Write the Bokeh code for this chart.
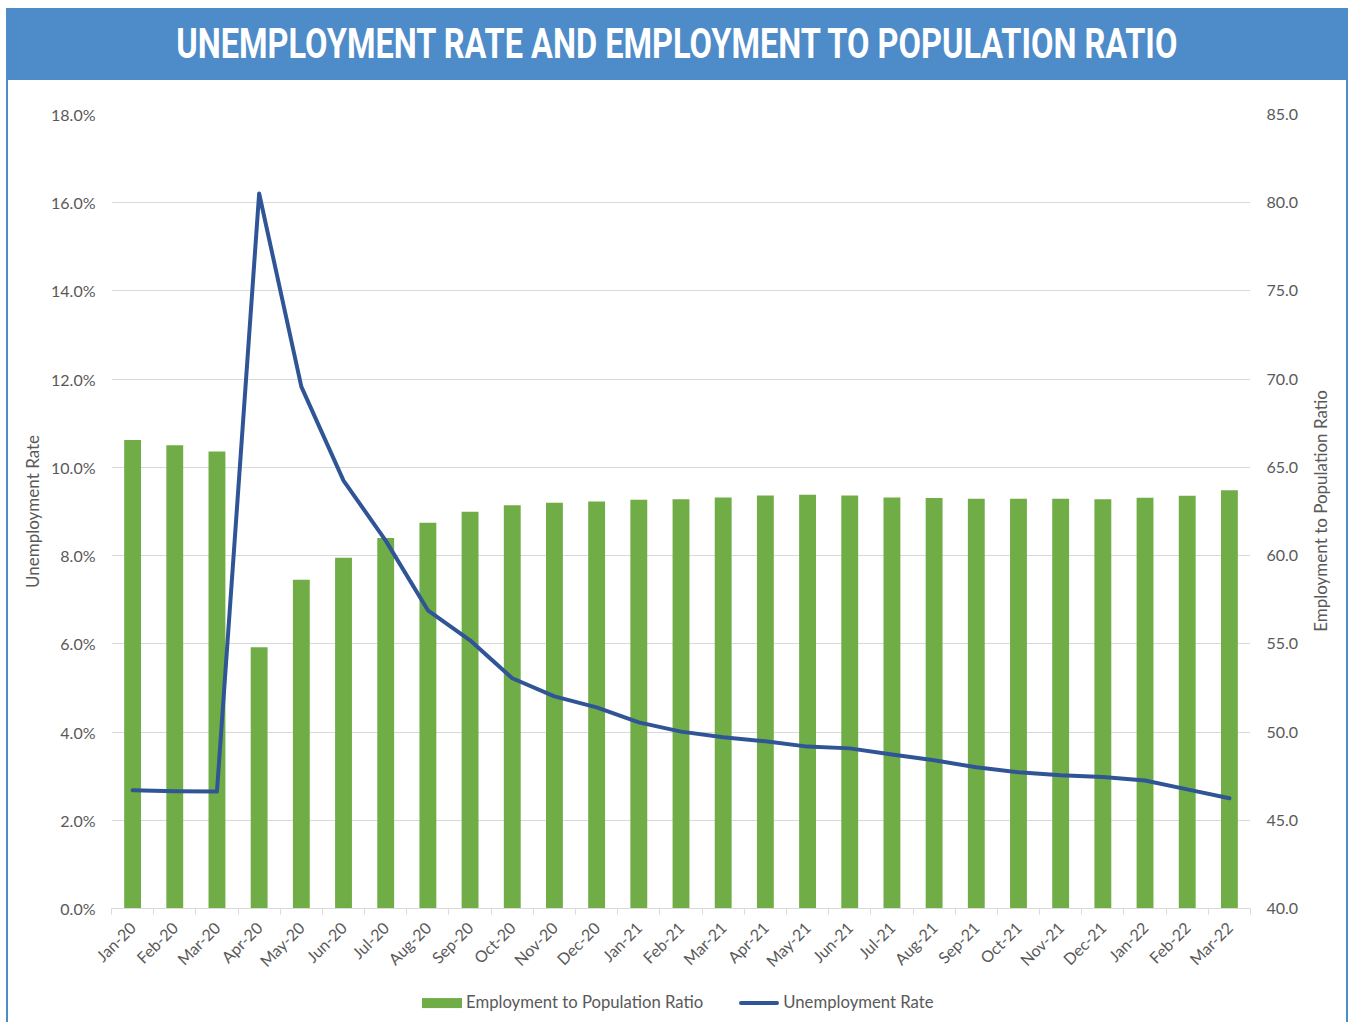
import math
from bokeh.plotting import figure
from bokeh.models import Range1d, LinearAxis, FixedTicker, PrintfTickFormatter, Div
from bokeh.layouts import column, row
from bokeh.embed import file_html
from bokeh.resources import INLINE

# ---------------- data ----------------
months = ["Jan-20", "Feb-20", "Mar-20", "Apr-20", "May-20", "Jun-20", "Jul-20", "Aug-20",
          "Sep-20", "Oct-20", "Nov-20", "Dec-20", "Jan-21", "Feb-21", "Mar-21", "Apr-21",
          "May-21", "Jun-21", "Jul-21", "Aug-21", "Sep-21", "Oct-21", "Nov-21", "Dec-21",
          "Jan-22", "Feb-22", "Mar-22"]
unemployment_rate = [2.68, 2.66, 2.65, 16.21, 11.83, 9.70, 8.34, 6.76, 6.08, 5.22, 4.81, 4.56,
                     4.22, 4.01, 3.88, 3.79, 3.67, 3.63, 3.49, 3.36, 3.20, 3.09, 3.02, 2.98,
                     2.90, 2.70, 2.50]
emp_pop_ratio = [66.55, 66.25, 65.9, 54.8, 58.63, 59.88, 61.0, 61.86, 62.49, 62.85, 63.0, 63.07,
                 63.17, 63.2, 63.3, 63.4, 63.45, 63.4, 63.3, 63.26, 63.22, 63.22, 63.22, 63.19,
                 63.28, 63.39, 63.7]
left_ticks = [0, 2, 4, 6, 8, 10, 12, 14, 16, 18]
right_ticks = [40, 45, 50, 55, 60, 65, 70, 75, 80, 85]
title_text = "UNEMPLOYMENT RATE AND EMPLOYMENT TO POPULATION RATIO"
left_title = "Unemployment Rate"
right_title = "Employment to Population Ratio"
bar_label = "Employment to Population Ratio"
line_label = "Unemployment Rate"

# ---------------- styles ----------------
BANNER = "#4E8BC9"
GREEN = "#70AD47"
LINE = "#2F5597"
GRID = "#D9D9D9"
TXT = "#595959"
FONT = "Lato"

INNER_W = 1338      # inside the blue side borders
BANNER_H = 72
PLOT_H = 905
RIGHT_W = 45
LEGEND_H = 37

# ---------------- title banner ----------------
title_html = (
    '<div style="width:%dpx;height:%dpx;line-height:%dpx;text-align:center;'
    'background:%s;color:white;font-family:Roboto,sans-serif;font-weight:bold;'
    'font-size:42px;white-space:nowrap;overflow:hidden;">'
    '<span style="display:inline-block;transform:scaleX(0.775);">%s</span></div>'
    % (INNER_W, BANNER_H, BANNER_H, BANNER, title_text)
)
banner = Div(text=title_html, width=INNER_W, height=BANNER_H, margin=(0, 0, 0, 0))

# ---------------- main chart ----------------
n = len(months)
idx = list(range(1, n + 1))
bounds = [i + 0.5 for i in range(0, n + 1)]

p = figure(width=INNER_W - RIGHT_W, height=PLOT_H, x_range=Range1d(0.5, n + 0.5),
           y_range=Range1d(left_ticks[0], left_ticks[-1]),
           output_backend="svg", toolbar_location=None, margin=(0, 0, 0, 0),
           min_border_left=103, min_border_right=48, min_border_top=34, min_border_bottom=77,
           background_fill_color="white", border_fill_color="white", outline_line_color=None)
p.extra_y_ranges = {"emp": Range1d(right_ticks[0], right_ticks[-1])}

bars = p.vbar(x=idx, top=emp_pop_ratio, bottom=right_ticks[0], width=0.4,
              y_range_name="emp", fill_color=GREEN, line_color=None)
ln = p.line(x=idx, y=unemployment_rate, line_color=LINE, line_width=4,
            line_join="round", line_cap="round")

# x axis
xa = p.xaxis[0]
xa.ticker = FixedTicker(ticks=idx, minor_ticks=bounds)
xa.major_label_overrides = {i: m for i, m in zip(idx, months)}
xa.major_label_orientation = math.pi / 4
xa.axis_line_color = GRID
xa.major_tick_line_color = None
xa.major_tick_out = 0
xa.major_tick_in = 0
xa.minor_tick_line_color = GRID
xa.minor_tick_out = 6
xa.minor_tick_in = 0
xa.major_label_standoff = 10
xa.major_label_text_font = FONT
xa.major_label_text_font_size = "16px"
xa.major_label_text_color = TXT

# left axis
ya = p.yaxis[0]
ya.ticker = FixedTicker(ticks=left_ticks)
ya.formatter = PrintfTickFormatter(format="%.1f%%")
ya.axis_line_color = None
ya.major_tick_line_color = None
ya.minor_tick_line_color = None
ya.major_tick_out = 0
ya.major_tick_in = 0
ya.major_label_standoff = 16
ya.major_label_text_font = FONT
ya.major_label_text_font_size = "16px"
ya.major_label_text_color = TXT
ya.axis_label = left_title
ya.axis_label_text_font = FONT
ya.axis_label_text_font_size = "17px"
ya.axis_label_text_font_style = "normal"
ya.axis_label_text_color = TXT
ya.axis_label_standoff = 5

# right axis (its title is drawn beside it, reading bottom-to-top)
ra = LinearAxis(y_range_name="emp", ticker=FixedTicker(ticks=right_ticks),
                formatter=PrintfTickFormatter(format="%.1f"))
ra.axis_line_color = None
ra.major_tick_line_color = None
ra.minor_tick_line_color = None
ra.major_tick_out = 0
ra.major_tick_in = 0
ra.major_label_standoff = 16
ra.major_label_text_font = FONT
ra.major_label_text_font_size = "16px"
ra.major_label_text_color = TXT
p.add_layout(ra, "right")

# grid
p.xgrid.visible = False
p.ygrid.ticker = FixedTicker(ticks=left_ticks)
p.ygrid.grid_line_color = GRID
p.ygrid.grid_line_width = 1

# right axis title
frame_mid = 34 + (PLOT_H - 34 - 77) // 2
right_html = (
    '<div style="position:relative;width:%dpx;height:%dpx;">'
    '<div style="position:absolute;left:20px;top:%dpx;transform:translate(-50%%,-50%%) rotate(-90deg);'
    'white-space:nowrap;font-family:Lato,sans-serif;font-size:17px;color:%s;">%s</div></div>'
    % (RIGHT_W, PLOT_H, frame_mid, TXT, right_title)
)
right_div = Div(text=right_html, width=RIGHT_W, height=PLOT_H, margin=(0, 0, 0, 0))

# legend
legend_html = (
    '<div style="position:relative;width:%dpx;height:%dpx;font-family:Lato,sans-serif;'
    'font-size:16.7px;color:%s;">'
    '<div style="position:absolute;left:414px;top:18px;transform:translateY(-50%%);'
    'display:flex;align-items:center;white-space:nowrap;">'
    '<span style="display:inline-block;width:40px;height:10px;background:%s;margin-right:4px;"></span>'
    '<span>%s</span>'
    '<span style="display:inline-block;width:40px;height:4px;border-radius:2px;background:%s;'
    'margin-left:36px;margin-right:4px;"></span>'
    '<span>%s</span></div></div>'
    % (INNER_W, LEGEND_H, TXT, GREEN, bar_label, LINE, line_label)
)
legend_div = Div(text=legend_html, width=INNER_W, height=LEGEND_H, margin=(0, 0, 0, 0))

root = column(banner, row(p, right_div, spacing=0), legend_div, spacing=0, styles={
    "margin-left": "6px", "margin-top": "8px",
    "border-left": "2px solid %s" % BANNER, "border-right": "2px solid %s" % BANNER,
})
open("out.html", "w").write(file_html(root, INLINE))
